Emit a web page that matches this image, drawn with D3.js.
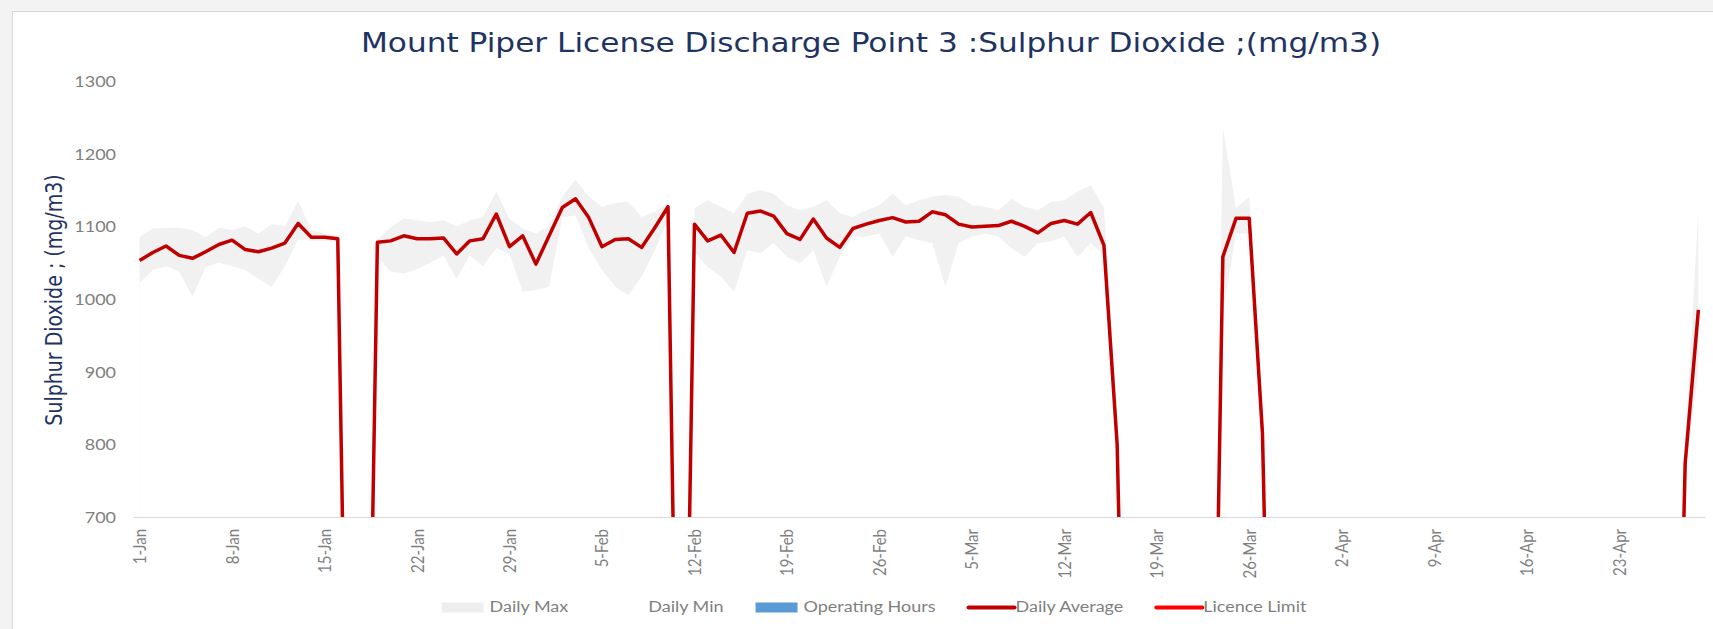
<!DOCTYPE html>
<html>
<head>
<meta charset="utf-8">
<script src="https://cdn.jsdelivr.net/npm/d3@7"></script>
<style>
  body { margin: 0; background: #f3f3f3; }
  svg { display: block; }
</style>
</head>
<body>
<div id="chart"></div>
<script>
// values, one per day from 1-Jan to 29-Apr (0 = no reading)
var dailyAverage = [
  1053, 1064, 1073, 1060, 1056, 1065, 1075, 1081, 1068, 1065, 1070, 1077, 1104, 1085, 1085, 1083,
  0, 0,
  1078, 1080, 1087, 1083, 1083, 1084, 1062, 1080, 1083, 1117, 1072, 1087, 1048, 1087, 1126, 1138,
  1112, 1072, 1082, 1083, 1071, 1098, 1127,
  0,
  1103, 1080, 1088, 1064, 1118, 1121, 1114, 1090, 1082, 1110, 1084, 1071, 1097, 1103, 1108, 1112,
  1106, 1107, 1120, 1116, 1103, 1099, 1100, 1101, 1107, 1100, 1091, 1104, 1108, 1103, 1119, 1074, 800,
  0, 0, 0, 0, 0, 0, 0,
  1058, 1111, 1111, 815,
  0, 0, 0, 0, 0, 0, 0, 0, 0, 0, 0, 0, 0, 0, 0, 0, 0, 0, 0, 0, 0, 0, 0, 0, 0, 0, 0, 0, 0, 0, 0,
  774, 985
];
var dailyMax = [
  1085, 1097, 1098, 1098, 1095, 1085, 1098, 1095, 1100, 1090, 1103, 1100, 1135, 1095, 1090, 1088,
  0, 0,
  1082, 1098, 1111, 1108, 1106, 1108, 1100, 1108, 1113, 1148, 1110, 1097, 1090, 1100, 1141, 1164,
  1141, 1127, 1132, 1134, 1113, 1120, 1132,
  0,
  1125, 1136, 1127, 1118, 1145, 1150, 1145, 1129, 1122, 1127, 1136, 1118, 1113, 1122, 1129, 1145,
  1129, 1136, 1141, 1143, 1141, 1129, 1127, 1122, 1138, 1127, 1122, 1134, 1136, 1148, 1157, 1125, 840,
  0, 0, 0, 0, 0, 0, 0,
  1237, 1125, 1141, 850,
  0, 0, 0, 0, 0, 0, 0, 0, 0, 0, 0, 0, 0, 0, 0, 0, 0, 0, 0, 0, 0, 0, 0, 0, 0, 0, 0, 0, 0, 0, 0,
  800, 1122
];
var dailyMin = [
  1022, 1040, 1045, 1038, 1003, 1044, 1050, 1045, 1040, 1028, 1017, 1045, 1082, 1080, 1080, 1078,
  0, 0,
  1058, 1038, 1035, 1041, 1050, 1060, 1028, 1060, 1045, 1070, 1062, 1010, 1012, 1017, 1113, 1115,
  1070, 1040, 1017, 1005, 1031, 1067, 1109,
  0,
  1065, 1044, 1031, 1010, 1067, 1063, 1077, 1058, 1049, 1067, 1017, 1058, 1086, 1086, 1090, 1058,
  1086, 1081, 1077, 1017, 1077, 1086, 1090, 1086, 1070, 1058, 1077, 1079, 1086, 1058, 1077, 1060, 780,
  0, 0, 0, 0, 0, 0, 0,
  980, 1090, 1090, 780,
  0, 0, 0, 0, 0, 0, 0, 0, 0, 0, 0, 0, 0, 0, 0, 0, 0, 0, 0, 0, 0, 0, 0, 0, 0, 0, 0, 0, 0, 0, 0,
  760, 900
];
var tickLabels = ["1-Jan", "8-Jan", "15-Jan", "22-Jan", "29-Jan", "5-Feb", "12-Feb", "19-Feb", "26-Feb",
                  "5-Mar", "12-Mar", "19-Mar", "26-Mar", "2-Apr", "9-Apr", "16-Apr", "23-Apr"];
var yTicks = [700, 800, 900, 1000, 1100, 1200, 1300];
var legendNames = ["Daily Max", "Daily Min", "Operating Hours", "Daily Average", "Licence Limit"];

var titleText = "Mount Piper License Discharge Point 3 :Sulphur Dioxide ;(mg/m3)";
var yTitleText = "Sulphur Dioxide ; (mg/m3)";

// the screenshot is stretched sideways, so text gets a horizontal scale
var SX = 1.2;

var W = 1713, H = 629;
var margin = {top: 81, right: 8, bottom: 112, left: 133},
    width = W - margin.left - margin.right,
    height = H - margin.top - margin.bottom;

var parseDate = d3.timeParse("%Y-%m-%d");
var days = d3.timeDay.range(parseDate("2019-01-01"), parseDate("2019-04-30"));

var x = d3.scaleBand()
    .domain(days)
    .range([0, width])
    .padding(0);
var y = d3.scaleLinear()
    .domain([700, 1300])
    .range([height, 0]);

function cx(i) { return x(days[i]) + x.bandwidth() / 2; }

var svg = d3.select("#chart").append("svg")
    .attr("width", W)
    .attr("height", H);

// card
svg.append("rect")
    .attr("x", 12.5).attr("y", 11.5)
    .attr("width", W + 40).attr("height", H + 40)
    .attr("fill", "#ffffff")
    .attr("stroke", "#d6d6d6");

// title
svg.append("text")
    .attr("transform", "translate(871,52) scale(" + SX + ",1)")
    .attr("text-anchor", "middle")
    .style("font-family", "DejaVu Sans")
    .style("font-size", "26px")
    .attr("fill", "#1f3461")
    .text(titleText);

// y axis title
svg.append("text")
    .attr("transform", "translate(62,300) scale(" + SX + ",1) rotate(-90)")
    .attr("text-anchor", "middle")
    .style("font-family", "DejaVu Sans")
    .style("font-size", "19px")
    .attr("fill", "#1f3461")
    .text(yTitleText);

var g = svg.append("g")
    .attr("transform", "translate(" + margin.left + "," + margin.top + ")");

g.append("clipPath").attr("id", "plotclip")
  .append("rect")
    .attr("x", 0).attr("y", -60)
    .attr("width", width).attr("height", height + 60);

var plot = g.append("g").attr("clip-path", "url(#plotclip)");

var idx = d3.range(days.length);

var areaMax = d3.area()
    .x(function(i) { return cx(i); })
    .y0(y(0))
    .y1(function(i) { return y(dailyMax[i]); });
var areaMin = d3.area()
    .x(function(i) { return cx(i); })
    .y0(y(0))
    .y1(function(i) { return y(dailyMin[i]); });
var avgLine = d3.line()
    .x(function(i) { return cx(i); })
    .y(function(i) { return y(dailyAverage[i]); });

plot.append("path").datum(idx)
    .attr("d", areaMax)
    .attr("fill", "#f1f1f1");
plot.append("path").datum(idx)
    .attr("d", areaMin)
    .attr("fill", "#ffffff");

// y axis (labels only)
var yAxisG = g.append("g")
    .call(d3.axisLeft(y).tickValues(yTicks).tickFormat(d3.format("d")).tickSize(0));
yAxisG.select(".domain").remove();
yAxisG.selectAll("text")
    .attr("x", -17 / SX)
    .attr("dy", "0.36em")
    .attr("transform", "scale(" + SX + ",1)")
    .style("font-family", "Lato")
    .style("font-size", "15px")
    .attr("fill", "#7f7f7f");

// x axis
var xAxisG = g.append("g")
    .attr("transform", "translate(0," + height + ")")
    .call(d3.axisBottom(x)
      .tickValues(days.filter(function(d, i) { return i % 7 === 0; }))
      .tickFormat(function(d, i) { return tickLabels[i]; })
      .tickSize(0)
      .tickSizeOuter(0));
xAxisG.select(".domain").attr("stroke", "#d9d9d9");
xAxisG.selectAll("text")
    .attr("x", -12)
    .attr("y", 0)
    .attr("dy", "0.36em")
    .attr("text-anchor", "end")
    .attr("transform", "scale(" + SX + ",1) rotate(-90)")
    .style("font-family", "Lato")
    .style("font-size", "15px")
    .attr("fill", "#7f7f7f");

plot.append("path").datum(idx)
    .attr("d", avgLine)
    .attr("fill", "none")
    .attr("stroke", "#c00000")
    .attr("stroke-width", 3.5)
    .attr("stroke-linejoin", "round");

// legend
var swatches = [
  {type: "rect", color: "#eeeeee"},
  {type: "rect", color: "#ffffff"},
  {type: "rect", color: "#5b9bd5"},
  {type: "line", color: "#c00000"},
  {type: "line", color: "#ff0000"}
];
var legend = svg.append("g");
var items = legend.selectAll("g.item")
    .data(legendNames)
  .enter().append("g")
    .attr("class", "item");

items.append("text")
    .attr("x", 48 / SX)
    .attr("y", 612.5)
    .attr("transform", "scale(" + SX + ",1)")
    .style("font-family", "Lato")
    .style("font-size", "15px")
    .attr("fill", "#7f7f7f")
    .text(function(d) { return d; });

items.each(function(d, i) {
  var s = swatches[i], it = d3.select(this);
  if (s.type === "rect") {
    it.append("rect")
        .attr("x", 0).attr("y", 602.5)
        .attr("width", 42).attr("height", 10)
        .attr("fill", s.color);
  } else {
    it.append("line")
        .attr("x1", 1).attr("x2", 47)
        .attr("y1", 607.5).attr("y2", 607.5)
        .attr("stroke", s.color)
        .attr("stroke-width", 4)
        .attr("stroke-linecap", "round");
  }
});

var widths = [];
items.select("text").each(function() { widths.push(48 + this.getComputedTextLength() * SX); });
var gap = 32;
var total = d3.sum(widths) + gap * (widths.length - 1);
var pos = 874 - total / 2;
items.attr("transform", function(d, i) {
  var p = pos;
  pos += widths[i] + gap;
  return "translate(" + p + ",0)";
});
</script>
</body>
</html>
